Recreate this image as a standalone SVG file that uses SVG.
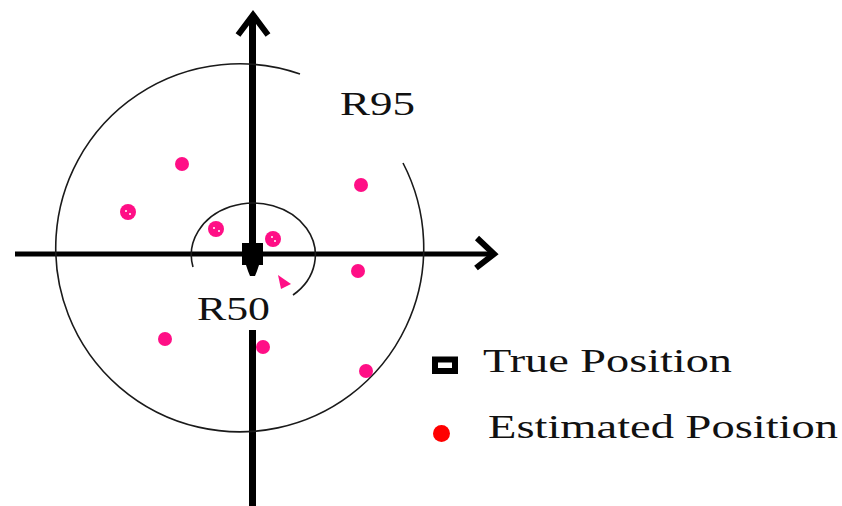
<svg xmlns="http://www.w3.org/2000/svg" width="842" height="506" viewBox="0 0 842 506">
<style>
.ring{fill:none;stroke:#1a1a1a;stroke-width:1.6}
.axis{stroke:#000;fill:none;stroke-linecap:butt}
.est{fill:#ff0f86}
.speck{fill:#fff}
.lbl{font-family:"Liberation Serif","Times New Roman",serif;font-size:33px;fill:#111}
</style>
<rect width="842" height="506" fill="#fff"/>
<g id="connectors">
  <line class="axis" x1="252.5" y1="16" x2="252.5" y2="268" stroke-width="7"/>
  <line class="axis" x1="252.5" y1="330" x2="252.5" y2="506" stroke-width="7"/>
  <line class="axis" x1="15" y1="254" x2="493" y2="254" stroke-width="5"/>
  <polyline class="axis" points="238,35 253,15 268,35" stroke-width="6" stroke-linejoin="miter"/>
  <polyline class="axis" points="477,238 494,254 476,268" stroke-width="6" stroke-linejoin="miter"/>
</g>
<g id="r95">
  <path class="ring" d="M 403 163 A 184 184 0 1 1 300 74"/>
  <text class="lbl" x="340" y="115" textLength="75" lengthAdjust="spacingAndGlyphs">R95</text>
</g>
<g id="r50">
  <path class="ring" d="M 193 267 A 62 52 0 1 1 293 295"/>
  <text class="lbl" x="197" y="320" textLength="73" lengthAdjust="spacingAndGlyphs">R50</text>
</g>
<g id="true-position">
  <rect x="242" y="243" width="21" height="22" fill="#000"/>
  <polygon points="246,265 259,265 257,271 255,276 250,276 248,271" fill="#000"/>
</g>
<g id="estimates">
  <circle class="est" cx="182" cy="164" r="7"/>
  <circle class="est" cx="128" cy="212" r="8"/>
  <circle class="speck" cx="126" cy="211" r="1"/>
  <circle class="speck" cx="130" cy="214" r="1"/>
  <circle class="est" cx="216" cy="229" r="8"/>
  <circle class="speck" cx="214" cy="228" r="1"/>
  <circle class="speck" cx="219" cy="231" r="1"/>
  <circle class="est" cx="273" cy="239" r="8"/>
  <circle class="speck" cx="272" cy="237" r="1"/>
  <circle class="speck" cx="275" cy="241" r="1"/>
  <circle class="est" cx="361" cy="185" r="7"/>
  <circle class="est" cx="358" cy="271" r="7"/>
  <polygon class="est" points="278,275 291,284 281,289"/>
  <circle class="est" cx="165" cy="339" r="7"/>
  <circle class="est" cx="263" cy="347" r="7"/>
  <circle class="est" cx="366" cy="371" r="7"/>
</g>
<g id="legend-true">
  <rect x="435" y="359.5" width="20" height="11.5" fill="#fff" stroke="#000" stroke-width="6"/>
  <text class="lbl" x="483" y="372" textLength="249" lengthAdjust="spacingAndGlyphs">True Position</text>
</g>
<g id="legend-estimated">
  <circle cx="441.5" cy="433.5" r="8.5" fill="#ff0000"/>
  <text class="lbl" x="488" y="438" textLength="350" lengthAdjust="spacingAndGlyphs">Estimated Position</text>
</g>
</svg>
